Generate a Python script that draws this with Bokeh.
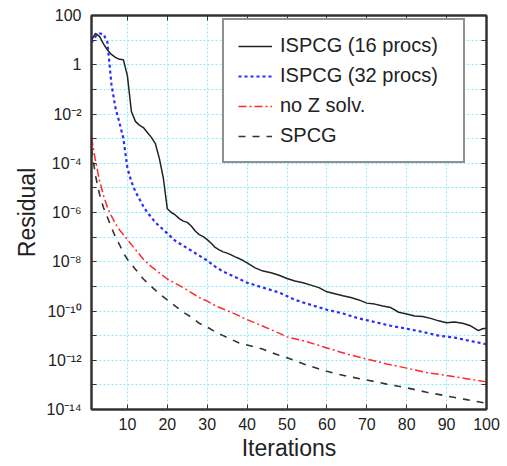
from bokeh.plotting import figure
from bokeh.models import Range1d, FixedTicker, LinearAxis, LogAxis, CustomJSTickFormatter
from bokeh.embed import file_html
from bokeh.resources import INLINE

# ---------------- data (log10 of residual) ----------------
isp16_it = [1, 2, 3, 4, 5, 6, 7, 8, 9, 10, 11, 12, 13, 14, 15, 16, 17, 18, 19, 20,
            21, 22, 23, 24, 25, 26, 27, 28, 29, 30, 31, 32, 33, 34, 35, 36, 37, 38, 39, 40,
            42, 44, 46, 48, 50, 52, 54, 56, 58, 60, 62, 64, 66, 68, 70, 72, 74, 76, 78, 80,
            82, 84, 86, 88, 90, 92, 94, 96, 98, 99, 100]
isp16_exp = [1.0, 1.27, 1.15, 0.85, 0.6, 0.42, 0.3, 0.22, 0.2, -0.45, -1.9, -2.3, -2.45, -2.55,
             -2.75, -2.95, -3.2, -3.8, -4.6, -5.85, -6.0, -6.1, -6.25, -6.35, -6.4, -6.55, -6.75,
             -6.9, -6.98, -7.1, -7.25, -7.42, -7.52, -7.6, -7.65, -7.72, -7.8, -7.87, -7.95, -8.05,
             -8.25, -8.38, -8.45, -8.55, -8.68, -8.78, -8.85, -8.95, -9.05, -9.22, -9.3, -9.38,
             -9.45, -9.55, -9.68, -9.72, -9.8, -9.86, -10.05, -10.12, -10.2, -10.22, -10.3, -10.4,
             -10.48, -10.45, -10.5, -10.6, -10.8, -10.72, -10.7]

isp32_it = [1, 2, 3, 4, 5, 6, 7, 8, 9, 10, 11, 12, 13, 14, 15, 16, 17, 18, 19, 20,
            22, 24, 26, 28, 30, 32, 34, 36, 38, 40, 44, 48, 52, 56, 60, 64, 68, 72, 76, 80,
            84, 88, 92, 96, 100]
isp32_exp = [0.9, 1.15, 1.27, 1.25, 0.9, -0.8, -1.75, -2.35, -3.0, -4.2, -4.75, -5.15, -5.45,
             -5.75, -6.0, -6.2, -6.4, -6.55, -6.7, -6.85, -7.15, -7.35, -7.55, -7.75, -7.95,
             -8.2, -8.4, -8.55, -8.7, -8.85, -9.05, -9.25, -9.55, -9.75, -9.95, -10.1, -10.3,
             -10.45, -10.6, -10.72, -10.85, -11.0, -11.08, -11.22, -11.35]

noz_it = [1, 2, 3, 4, 5, 6, 7, 8, 9, 10, 12, 14, 16, 18, 20, 22, 24, 26, 28, 30, 32, 34, 36,
          38, 40, 44, 48, 50, 55, 60, 65, 70, 75, 80, 85, 90, 95, 100]
noz_exp = [-2.95, -3.9, -4.7, -5.3, -5.8, -6.15, -6.45, -6.7, -6.9, -7.1, -7.5, -7.9, -8.2,
           -8.45, -8.7, -8.88, -9.05, -9.25, -9.45, -9.6, -9.78, -9.92, -10.05, -10.2, -10.35,
           -10.62, -10.9, -11.05, -11.25, -11.5, -11.75, -11.95, -12.15, -12.32, -12.5, -12.62,
           -12.75, -12.88]

spcg_it = [1, 2, 3, 4, 5, 6, 7, 8, 9, 10, 12, 14, 16, 18, 20, 22, 24, 26, 28, 30, 32, 34, 36,
           38, 40, 44, 48, 50, 55, 60, 65, 70, 75, 80, 85, 90, 95, 100]
spcg_exp = [-3.4, -4.5, -5.25, -5.8, -6.2, -6.6, -7.0, -7.3, -7.65, -7.9, -8.3, -8.7, -9.0,
            -9.3, -9.55, -9.8, -10.05, -10.25, -10.5, -10.65, -10.85, -11.0, -11.15, -11.3,
            -11.38, -11.55, -11.8, -11.9, -12.2, -12.45, -12.65, -12.8, -12.97, -13.12, -13.3,
            -13.45, -13.6, -13.75]

x_ticks = [10, 20, 30, 40, 50, 60, 70, 80, 90, 100]
y_major_exp = [2, 0, -2, -4, -6, -8, -10, -12, -14]
y_minor_exp = [1, -1, -3, -5, -7, -9, -11, -13]

labels = ["ISPCG (16 procs)", "ISPCG (32 procs)", "no Z solv.", "SPCG"]

# ---------------- figure ----------------
FONT = "Liberation Sans"
GRID = "#7ff0ff"
AXC = "#333333"

p = figure(frame_width=395, frame_height=394, y_axis_type="log",
           x_range=Range1d(1, 100), y_range=Range1d(1e-14, 1e2),
           output_backend="svg", toolbar_location=None,
           min_border_left=91, min_border_right=19, min_border_top=15, min_border_bottom=55)
p.outline_line_color = AXC
p.outline_line_width = 2
p.background_fill_color = "white"

y_major = [10.0 ** e for e in y_major_exp]
y_minor = [10.0 ** e for e in y_minor_exp]
yticker = FixedTicker(ticks=y_major, minor_ticks=y_minor)
xticker = FixedTicker(ticks=x_ticks, minor_ticks=[])

fmt_js = """
const e = Math.round(Math.log10(tick));
if (e == 2) return "100";
if (e == 0) return "1";
const sup = {"-":"\u207b","0":"\u2070","1":"\u00b9","2":"\u00b2","3":"\u00b3","4":"\u2074",
             "5":"\u2075","6":"\u2076","7":"\u2077","8":"\u2078","9":"\u2079"};
return "10" + String(e).split("").map(c => sup[c]).join("");
"""

# bottom / left axes
xa = p.xaxis[0]
xa.ticker = xticker
xa.axis_label = "Iterations"
ya = p.yaxis[0]
ya.ticker = yticker
ya.formatter = CustomJSTickFormatter(code=fmt_js)
ya.axis_label = "Residual"

for ax in (xa, ya):
    ax.axis_line_color = AXC
    ax.axis_line_width = 2
    ax.major_tick_in = 5
    ax.major_tick_out = 0
    ax.minor_tick_in = 5
    ax.minor_tick_out = 0
    ax.major_tick_line_color = AXC
    ax.minor_tick_line_color = AXC
    ax.major_label_text_font = FONT
    ax.major_label_text_font_size = "16px"
    ax.major_label_text_color = "#222222"
    ax.axis_label_text_font = FONT
    ax.axis_label_text_font_size = "23px"
    ax.axis_label_text_font_style = "normal"
    ax.axis_label_text_color = "#222222"
xa.major_label_standoff = 8
xa.axis_label_standoff = 2
ya.major_label_standoff = 10
ya.axis_label_standoff = 4

# top and right box axes (ticks only)
top = LinearAxis(ticker=xticker, formatter=CustomJSTickFormatter(code="return ''"))
right = LogAxis(ticker=yticker, formatter=CustomJSTickFormatter(code="return ''"))
for ax in (top, right):
    ax.axis_line_color = AXC
    ax.axis_line_width = 2
    ax.major_tick_in = 5
    ax.major_tick_out = 0
    ax.minor_tick_in = 5
    ax.minor_tick_out = 0
    ax.major_tick_line_color = AXC
    ax.minor_tick_line_color = AXC
    ax.major_label_text_font_size = "1px"
    ax.major_label_standoff = 0
p.add_layout(top, "above")
p.add_layout(right, "right")

# grids
p.xgrid.ticker = FixedTicker(ticks=x_ticks[:-1])
p.xgrid.grid_line_color = GRID
p.xgrid.grid_line_dash = "2 2"
p.xgrid.grid_line_width = 1
p.ygrid.ticker = yticker
p.ygrid.grid_line_color = GRID
p.ygrid.grid_line_dash = "2 2"
p.ygrid.minor_grid_line_color = GRID
p.ygrid.minor_grid_line_dash = "2 2"

# series
p.line(isp16_it, [10.0 ** e for e in isp16_exp], line_color="#222222", line_width=1.5,
       legend_label=labels[0])
p.line(isp32_it, [10.0 ** e for e in isp32_exp], line_color="#2b2bff", line_width=2.2,
       line_dash="3 3", legend_label=labels[1])
p.line(noz_it, [10.0 ** e for e in noz_exp], line_color="#ff2a2a", line_width=1.5,
       line_dash="8 3 2 3", legend_label=labels[2])
p.line(spcg_it, [10.0 ** e for e in spcg_exp], line_color="#333333", line_width=1.6,
       line_dash="7 7", legend_label=labels[3])

lg = p.legend[0]
lg.location = (131, 246)
lg.border_line_color = "#222222"
lg.border_line_width = 2
lg.background_fill_alpha = 1.0
lg.label_text_font = FONT
lg.label_text_font_size = "20px"
lg.label_text_color = "#222222"
lg.glyph_width = 34
lg.glyph_height = 20
lg.label_height = 20
lg.label_width = 169
lg.spacing = 7
lg.padding = 14
lg.label_standoff = 8
lg.margin = 0

open("out.html", "w").write(file_html(p, INLINE))
